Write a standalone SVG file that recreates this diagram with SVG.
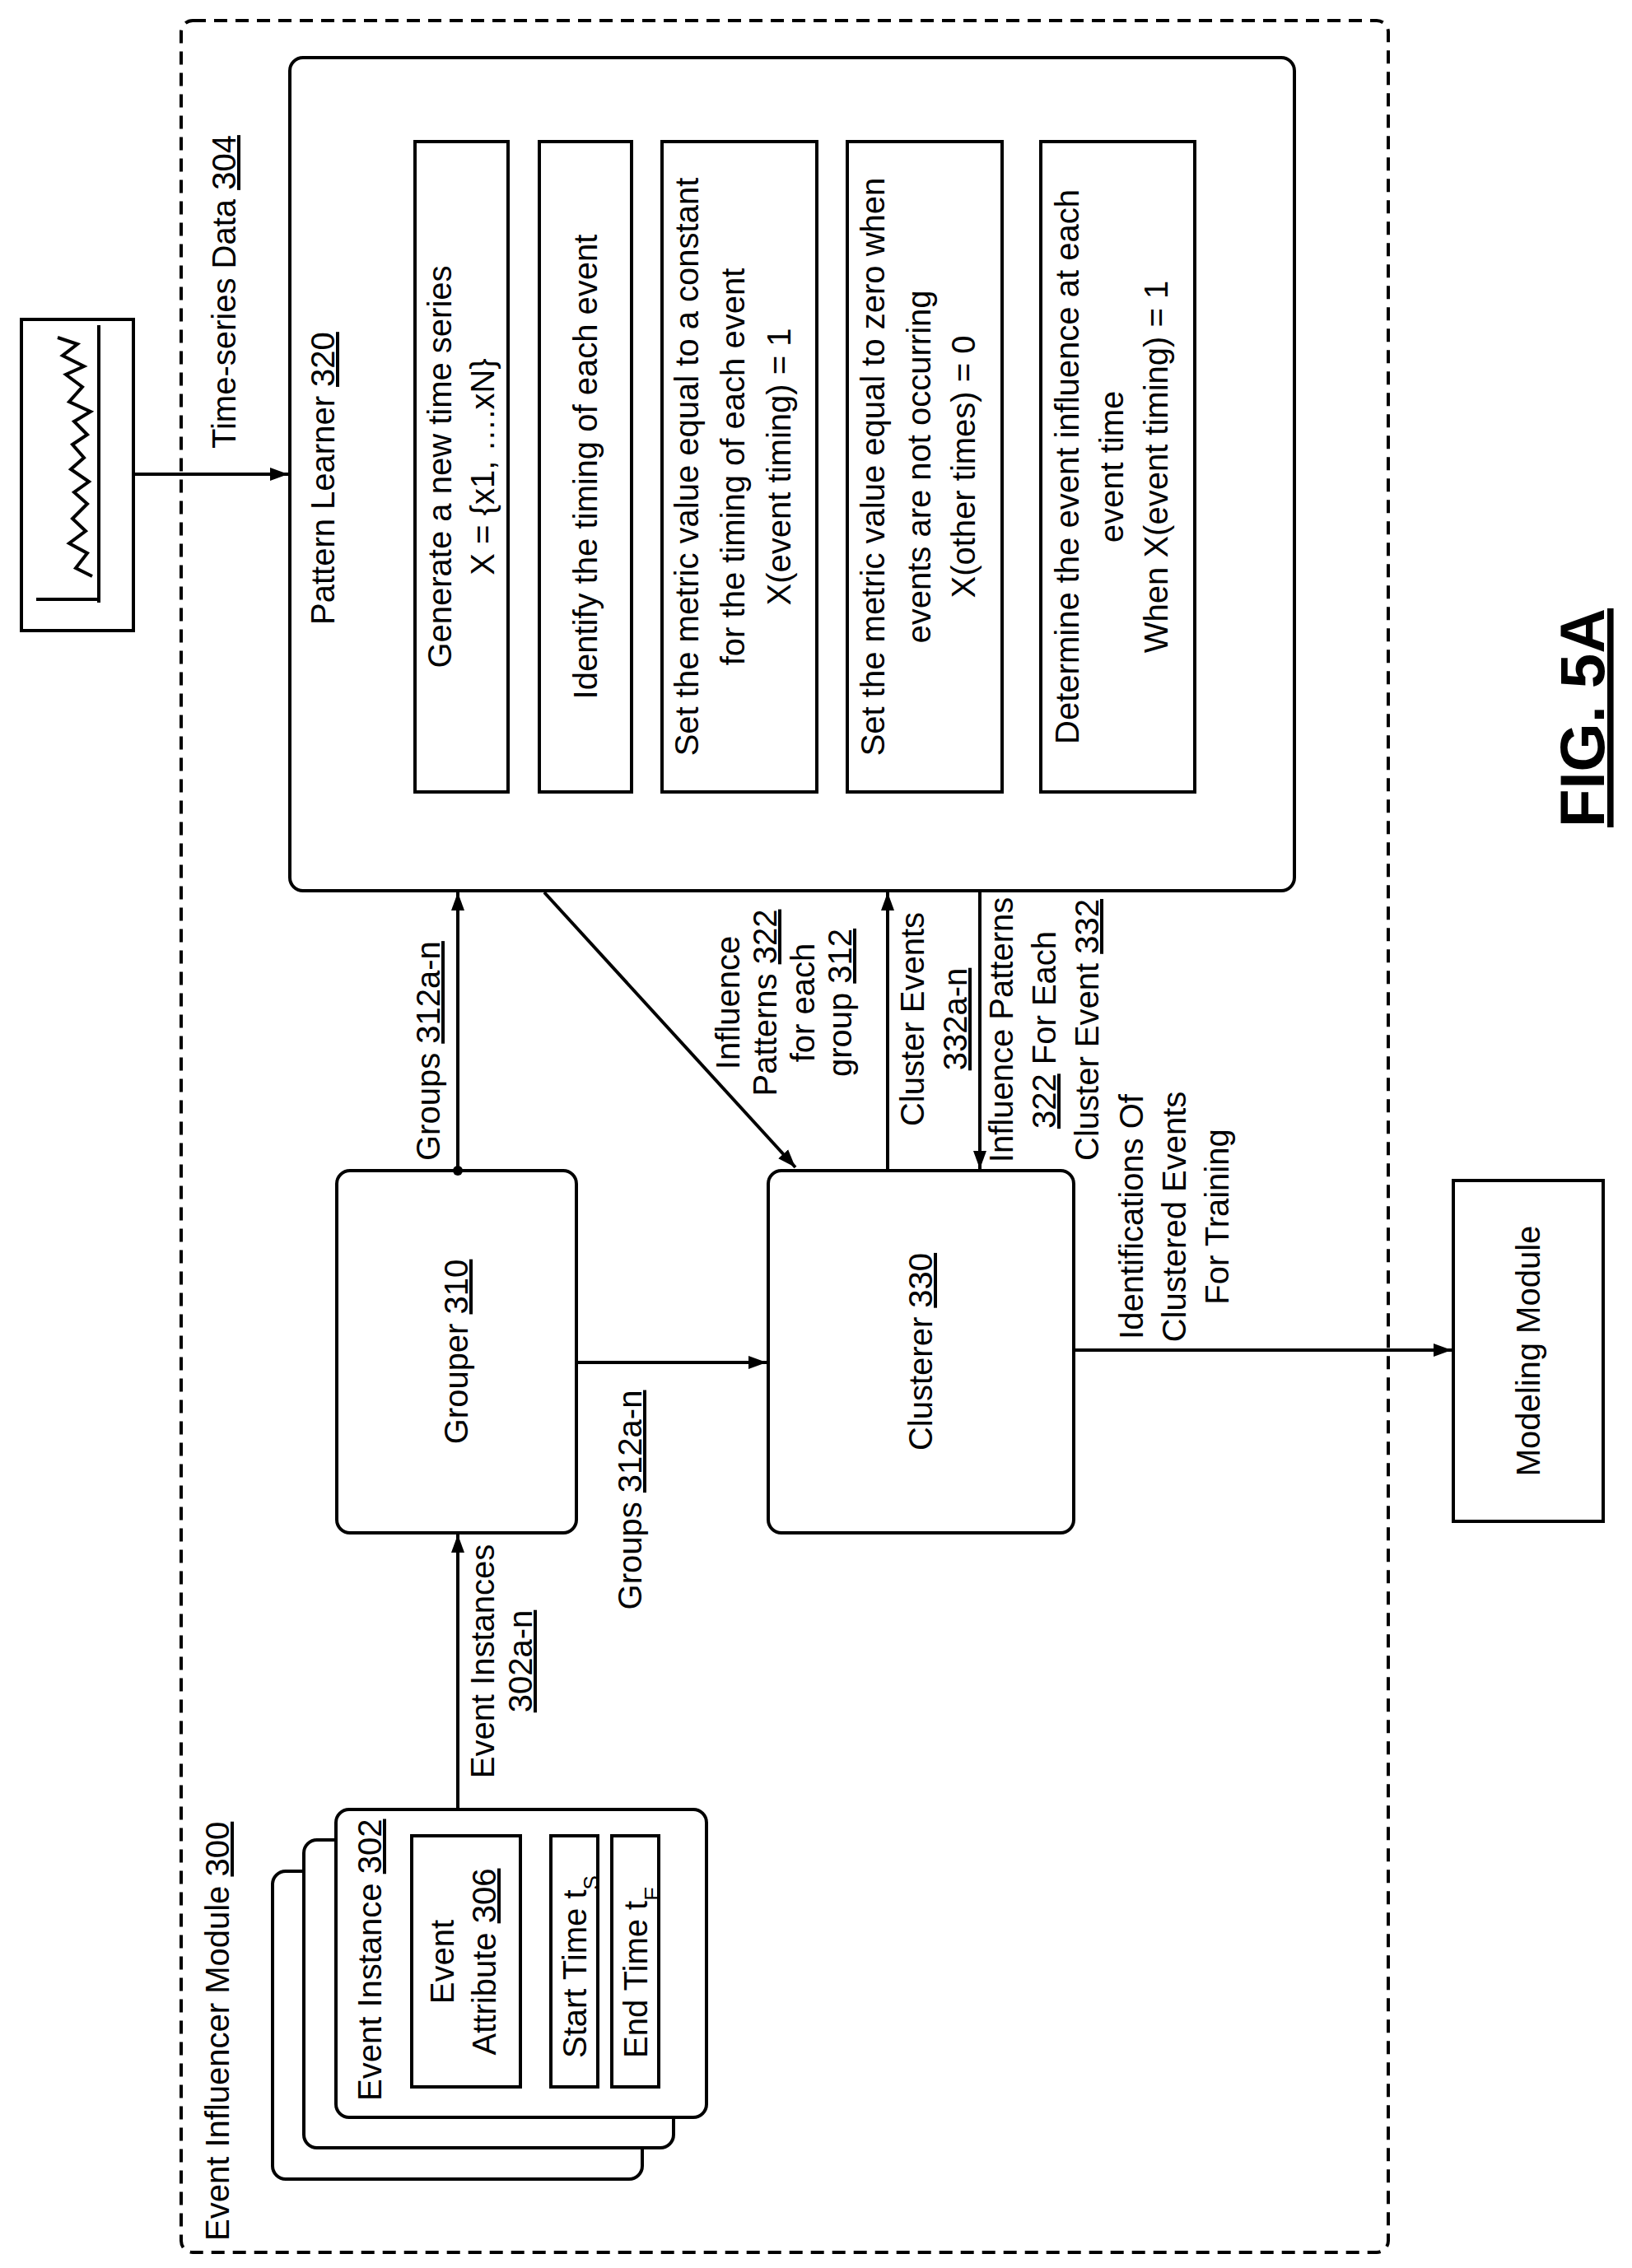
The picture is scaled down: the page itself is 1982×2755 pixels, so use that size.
<svg xmlns="http://www.w3.org/2000/svg" width="1982" height="2755" viewBox="0 0 1982 2755">
<style>
text{font-family:"Liberation Sans",Arial,sans-serif;font-size:40px;fill:#000}
.m{text-anchor:middle}
.u{text-decoration:underline}
.b{fill:#fff;stroke:#000;stroke-width:4}
.l{fill:none;stroke:#000;stroke-width:4}
</style>
<defs>
<marker id="ah" markerWidth="24" markerHeight="20" refX="22" refY="10" orient="auto" markerUnits="userSpaceOnUse"><path d="M0,2L22,10L0,18z" fill="#000"/></marker></defs>
<rect width="1982" height="2755" fill="#fff"/>
<g id="module"><rect x="220" y="25" width="1466" height="2711" rx="14" fill="none" stroke="#000" stroke-width="4" stroke-dasharray="16,10"/>
<text transform="translate(278,2722) rotate(-90)">Event Influencer Module <tspan class="u">300</tspan></text></g>
<g id="timeseries"><rect x="26" y="388" width="136" height="378" class="b"/>
<path class="l" stroke-width="3" d="M120,395V732M44,728H120"/>
<polyline class="l" stroke-width="3" points="112,700 92,690 106,672 84,660 104,645 88,630 106,612 90,598 108,585 86,570 102,556 88,540 106,528 90,512 110,500 84,488 100,470 80,455 102,445 76,432 94,418 70,410"/>
<text transform="translate(286,545) rotate(-90)">Time-series Data <tspan class="u">304</tspan></text></g>
<g id="pattern"><rect x="352" y="70" width="1220" height="1012" rx="16" class="b"/>
<text transform="translate(406,759) rotate(-90)">Pattern Learner <tspan class="u">320</tspan></text>
<rect x="504" y="172" width="113" height="790" class="b"/>
<text class="m" transform="translate(548,567) rotate(-90)">Generate a new time series</text>
<text class="m" transform="translate(600,567) rotate(-90)">X = {x1, ….xN}</text>
<rect x="655" y="172" width="112" height="790" class="b"/>
<text class="m" transform="translate(725,567) rotate(-90)">Identify the timing of each event</text>
<rect x="804" y="172" width="188" height="790" class="b"/>
<text class="m" transform="translate(848,567) rotate(-90)">Set the metric value equal to a constant</text>
<text class="m" transform="translate(904,567) rotate(-90)">for the timing of each event</text>
<text class="m" transform="translate(960,567) rotate(-90)">X(event timing) = 1</text>
<rect x="1029" y="172" width="188" height="790" class="b"/>
<text class="m" transform="translate(1074,567) rotate(-90)">Set the metric value equal to zero when</text>
<text class="m" transform="translate(1130,567) rotate(-90)">events are not occurring</text>
<text class="m" transform="translate(1184,567) rotate(-90)">X(other times) = 0</text>
<rect x="1264" y="172" width="187" height="790" class="b"/>
<text class="m" transform="translate(1310,567) rotate(-90)">Determine the event influence at each</text>
<text class="m" transform="translate(1364,567) rotate(-90)">event time</text>
<text class="m" transform="translate(1418,567) rotate(-90)">When X(event timing) = 1</text></g>
<g id="grouper"><rect x="409" y="1422" width="291" height="440" rx="16" class="b"/>
<text class="m" transform="translate(568,1642) rotate(-90)">Grouper <tspan class="u">310</tspan></text></g>
<g id="clusterer"><rect x="933" y="1422" width="371" height="440" rx="16" class="b"/>
<text class="m" transform="translate(1132,1642) rotate(-90)">Clusterer <tspan class="u">330</tspan></text></g>
<g id="modeling"><rect x="1765" y="1434" width="182" height="414" class="b"/>
<text class="m" transform="translate(1870,1641) rotate(-90)">Modeling Module</text></g>
<g id="events">
<rect x="331" y="2273" width="449" height="374" rx="16" class="b"/>
<rect x="369" y="2235" width="449" height="374" rx="16" class="b"/>
<rect x="408" y="2198" width="450" height="374" rx="16" class="b"/>
<text transform="translate(463,2552) rotate(-90)">Event Instance <tspan class="u">302</tspan></text>
<rect x="500" y="2230" width="132" height="305" class="b"/>
<text class="m" transform="translate(551,2383) rotate(-90)">Event</text>
<text class="m" transform="translate(602,2383) rotate(-90)">Attribute <tspan class="u">306</tspan></text>
<rect x="669" y="2230" width="57" height="305" class="b"/>
<text transform="translate(712,2500) rotate(-90)">Start Time t<tspan font-size="26" baseline-shift="sub">S</tspan></text>
<rect x="743" y="2230" width="57" height="305" class="b"/>
<text transform="translate(786,2500) rotate(-90)">End Time t<tspan font-size="26" baseline-shift="sub">E</tspan></text></g>
<g id="connectors">
<path class="l" d="M556,2198V1864" marker-end="url(#ah)"/>
<path class="l" d="M700,1655H931" marker-end="url(#ah)"/>
<circle cx="556" cy="1422" r="6"/>
<path class="l" d="M556,1422V1084" marker-end="url(#ah)"/>
<path class="l" d="M661,1084L966,1418" marker-end="url(#ah)"/>
<path class="l" d="M1078,1422V1084" marker-end="url(#ah)"/>
<path class="l" d="M1190,1082V1420" marker-end="url(#ah)"/>
<path class="l" d="M1304,1640H1763" marker-end="url(#ah)"/>
<path class="l" d="M162,576H350" marker-end="url(#ah)"/>
<text transform="translate(534,1410) rotate(-90)">Groups <tspan class="u">312a-n</tspan></text>
<text class="m" transform="translate(600,2018) rotate(-90)">Event Instances</text>
<text class="m u" transform="translate(646,2018) rotate(-90)">302a-n</text>
<text class="m" transform="translate(779,1822) rotate(-90)">Groups <tspan class="u">312a-n</tspan></text>
<text class="m" transform="translate(898,1218) rotate(-90)">Influence</text>
<text class="m" transform="translate(943,1218) rotate(-90)">Patterns <tspan class="u">322</tspan></text>
<text class="m" transform="translate(989,1218) rotate(-90)">for each</text>
<text class="m" transform="translate(1034,1218) rotate(-90)">group <tspan class="u">312</tspan></text>
<text class="m" transform="translate(1122,1238) rotate(-90)">Cluster Events</text>
<text class="m u" transform="translate(1174,1238) rotate(-90)">332a-n</text>
<text class="m" transform="translate(1230,1251) rotate(-90)">Influence Patterns</text>
<text class="m" transform="translate(1282,1251) rotate(-90)"><tspan class="u">322</tspan> For Each</text>
<text class="m" transform="translate(1334,1251) rotate(-90)">Cluster Event <tspan class="u">332</tspan></text>
<text class="m" transform="translate(1388,1478) rotate(-90)">Identifications Of</text>
<text class="m" transform="translate(1440,1478) rotate(-90)">Clustered Events</text>
<text class="m" transform="translate(1492,1478) rotate(-90)">For Training</text>
</g>
<text class="m u" font-weight="bold" transform="translate(1948,872) rotate(-90)" style="font-size:76px">FIG. 5A</text>
</svg>
